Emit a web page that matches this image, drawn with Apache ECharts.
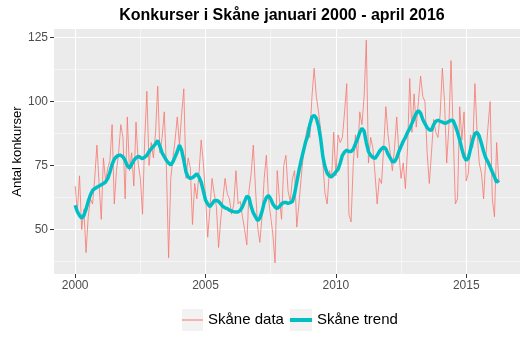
<!DOCTYPE html>
<html><head><meta charset="utf-8">
<script src="https://cdn.jsdelivr.net/npm/echarts@6/dist/echarts.min.js"></script>
<style>html,body{margin:0;padding:0;background:#fff}#c{width:528px;height:355px}</style>
</head><body><div id="c"></div>
<script>
const startYear = 2000;
const seriesNames = ['Skåne data', 'Skåne trend'];
const dataValues = [
67,57,71,50,58,41,55,62,60,70,83,68,
54,78,69,74,77,91,60,73,80,91,86,62,
94,73,80,67,92,76,70,56,85,104,75,84,
78,88,106,80,86,96,74,39,70,78,85,94,
83,95,105,70,78,74,52,68,62,72,85,76,
63,47,58,70,64,59,43,54,62,70,64,62,
56,60,73,60,61,55,50,44,65,72,83,66,
51,45,55,70,79,62,55,48,37,73,62,54,
75,79,65,61,70,73,51,60,70,79,86,90,
86,102,113,102,96,89,76,64,60,73,70,88,
71,87,84,86,96,107,56,53,76,87,78,96,
91,102,124,76,86,82,72,60,70,68,82,98,
87,80,73,82,94,80,70,76,66,82,109,88,
103,90,100,110,102,100,80,68,80,93,88,86,
95,113,100,76,90,116,88,60,62,98,85,96,
69,72,87,82,107,88,76,72,62,78,90,100,
62,55,84,69
];
const trendValues = [
59.5,57,55.5,54.5,55.5,58,61,63.5,65.3,66,66.5,67,
67.5,68,68.6,70,72.5,75.5,77.5,78.5,79,79,78.4,77,
75,74,75.5,77,78,78.6,78.2,77.7,78.3,79,80.5,81.5,
82.5,83.5,84.8,82.5,80,78.5,77,76,75.2,76.5,78.4,80.5,
83,81,77,72.5,70.5,70,70.3,71,71.8,70.5,68.5,65,
61.5,60,59,60,61.3,61.4,61,60,59,58.5,58.2,57.6,
57.2,57,56.9,56.9,57.5,59,61,63,62.5,59,56.5,55,
53.5,54.5,57,60.5,62.5,63.3,62,60,58.8,58.2,59,60,
60.6,60.6,60.2,60.5,61,64,68.5,73,77,80.5,84,86.5,
91,94,94.6,93.5,90.5,85.5,78.5,74.5,72,71,70.6,71.5,
72.5,73.5,76,79,80.3,81,80.5,80.5,81.4,83.5,85.5,88,
89.5,88.5,84,80.5,79,78.2,77.8,79,80.5,81.5,82.2,81.5,
79.5,78,76.5,76.5,78,80.5,82.5,84.5,86,88,89.5,91.5,
93.5,95.5,96.5,95.5,93,91.4,89.8,89,88.8,91,92.3,92.7,
92.3,92,91.5,91.7,92.2,92.7,92.5,90.5,88,85,81.5,78.5,
77,78,81.5,85,87.5,88,86.5,83.6,80.5,78,76.4,74.5,
72.5,70.6,68.5,69.3
];
const yTicks = [50, 75, 100, 125];
const yMinor = [37.5, 62.5, 87.5, 112.5];
const xTicks = [2000, 2005, 2010, 2015];
const xMinor = [2002.5, 2007.5, 2012.5];

const FONT = 'Liberation Sans, Arial, sans-serif';
const xMin = 1999.1875, xMax = 2017.0625, yMin = 32.65, yMax = 128.35;
const legendTop = 312.5;

const chart = echarts.init(document.getElementById('c'), null, {renderer: 'canvas'});
chart.setOption({
  animation: false,
  backgroundColor: '#fff',
  title: {
    text: 'Konkurser i Skåne januari 2000 - april 2016',
    left: 277, top: 3, textAlign: 'center',
    textStyle: {fontFamily: FONT, fontSize: 16, fontWeight: 'bold', color: '#000'}
  },
  graphic: [
    {type: 'rect', left: 182, top: 309, shape: {width: 21, height: 22}, style: {fill: '#F2F2F2'}, z: -1},
    {type: 'rect', left: 290, top: 309, shape: {width: 22, height: 22}, style: {fill: '#F2F2F2'}, z: -1}
  ],
  legend: [{
    data: [{name: seriesNames[0], icon: 'rect'}],
    left: 182, top: legendTop, padding: 0,
    itemWidth: 21, itemHeight: 1,
    textStyle: {fontFamily: FONT, fontSize: 15, color: '#000'}
  }, {
    data: [{name: seriesNames[1], icon: 'rect'}],
    left: 290, top: legendTop, padding: 0,
    itemWidth: 22, itemHeight: 4,
    textStyle: {fontFamily: FONT, fontSize: 15, color: '#000'}
  }],
  grid: {left: 54, right: 8, top: 29, bottom: 81, show: true, backgroundColor: '#EBEBEB', borderWidth: 0,
    containLabel: false, outerBoundsMode: 'none'},
  xAxis: [{
    type: 'value', min: xMin, max: xMax,
    axisLine: {show: false},
    axisTick: {show: true, length: 4, customValues: xTicks, lineStyle: {color: '#333', width: 1}},
    axisLabel: {customValues: xTicks, color: '#4D4D4D', fontSize: 12, fontFamily: FONT, margin: 6,
      formatter: v => String(v)},
    splitLine: {show: true, lineStyle: {color: '#fff', width: 1.1}}
  }, {
    type: 'value', min: xMin, max: xMax, position: 'bottom',
    axisLine: {show: false},
    axisTick: {show: false, customValues: xMinor},
    axisLabel: {show: false, customValues: xMinor},
    splitLine: {show: true, lineStyle: {color: '#fff', width: 0.5}}
  }],
  yAxis: [{
    type: 'value', min: yMin, max: yMax,
    name: 'Antal konkurser', nameLocation: 'middle', nameGap: 30, nameMoveOverlap: false,
    nameTextStyle: {fontFamily: FONT, fontSize: 13, color: '#000'},
    axisLine: {show: false},
    axisTick: {show: true, length: 4, customValues: yTicks, lineStyle: {color: '#333', width: 1}},
    axisLabel: {customValues: yTicks, color: '#4D4D4D', fontSize: 12, fontFamily: FONT, margin: 6},
    splitLine: {show: true, lineStyle: {color: '#fff', width: 1.1}}
  }, {
    type: 'value', min: yMin, max: yMax, position: 'left',
    axisLine: {show: false},
    axisTick: {show: false, customValues: yMinor},
    axisLabel: {show: false, customValues: yMinor},
    splitLine: {show: true, lineStyle: {color: '#fff', width: 0.5}}
  }],
  series: [{
    name: seriesNames[0], type: 'line', xAxisIndex: 0, yAxisIndex: 0,
    data: dataValues.map((v, i) => [startYear + i / 12, v]),
    symbol: 'none', showSymbol: false,
    lineStyle: {color: '#F8766D', width: 0.8}, itemStyle: {color: '#F8766D'}, z: 2
  }, {
    name: seriesNames[1], type: 'line', xAxisIndex: 0, yAxisIndex: 0,
    data: trendValues.map((v, i) => [startYear + i / 12, v]),
    symbol: 'none', showSymbol: false,
    lineStyle: {color: '#00BFC4', width: 3.5}, itemStyle: {color: '#00BFC4'}, z: 3
  }]
});
</script>
</body></html>
